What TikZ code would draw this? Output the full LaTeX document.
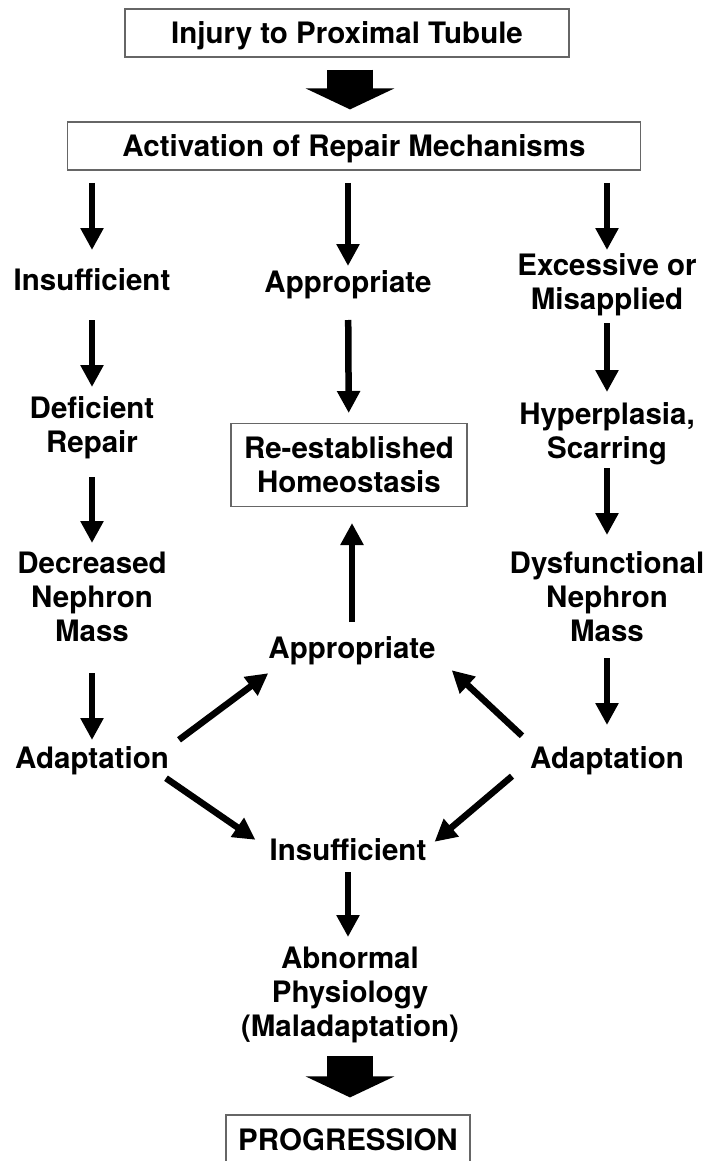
\documentclass[tikz,border=0pt]{standalone}
\usepackage{fontspec}
\setmainfont{TeX Gyre Heros}
\usetikzlibrary{arrows.meta}
\newcommand\tline[1]{\raisebox{0pt}[24.6pt][3.4pt]{#1}}
\begin{document}
\begin{tikzpicture}[x=1pt,y=-1pt,
  txt/.style={font=\fontsize{29.5}{34}\selectfont\bfseries, align=center, inner sep=0pt},
  boxed/.style={txt, draw=black!60, line width=1.2pt},
  arr/.style={line width=6.5pt, -{Triangle[width=22pt,length=22pt]}},
  bigarr/.style={line width=46pt, -{Triangle[width=88pt,length=21pt]}}]
\useasboundingbox (0,0) rectangle (707,1161);
% boxes
\node[boxed, minimum width=444pt, minimum height=48pt] (inj) at (347,33) {\tline{Injury to Proximal Tubule}};
\node[boxed, minimum width=573pt, minimum height=48pt] (act) at (354,146) {\tline{Activation of Repair Mechanisms}};
\node[boxed, minimum width=236pt, minimum height=83pt] (M2) at (349,465) {\tline{Re-established}\\\tline{Homeostasis}};
\node[boxed, minimum width=244pt, minimum height=50pt] (prog) at (348,1140) {\tline{PROGRESSION}};
% left column
\node[txt] (L1) at (92,280) {\tline{Insufficient}};
\node[txt] (L2) at (92,425) {\tline{Deficient}\\\tline{Repair}};
\node[txt] (L3) at (92,597) {\tline{Decreased}\\\tline{Nephron}\\\tline{Mass}};
\node[txt] (L4) at (92,758) {\tline{Adaptation}};
% middle column
\node[txt] (M1) at (348,282) {\tline{Appropriate}};
\node[txt] (M3) at (352,648) {\tline{Appropriate}};
\node[txt] (M4) at (348,850) {\tline{Insufficient}};
\node[txt] (M5) at (350,992) {\tline{Abnormal}\\\tline{Physiology}\\\tline{(Maladaptation)}};
% right column
\node[txt] (R1) at (607,282) {\tline{Excessive or}\\\tline{Misapplied}};
\node[txt] (R2) at (607,431) {\tline{Hyperplasia,}\\\tline{Scarring}};
\node[txt] (R3) at (607,597) {\tline{Dysfunctional}\\\tline{Nephron}\\\tline{Mass}};
\node[txt] (R4) at (607,758) {\tline{Adaptation}};
% big arrows
\coordinate (bx) at ([xshift=3pt]inj.south);
\draw[bigarr, shorten <=12pt, shorten >=12pt] (bx) -- (bx |- act.north);
\draw[bigarr, shorten <=16pt, shorten >=17pt] (M5.south) -- (M5.south |- prog.north);
% left arrows
\draw[arr, shorten <=37pt, shorten >=30pt] (act.center -| L1.center) -- (L1.center);
\draw[arr, shorten <=40pt, shorten >=38pt] (L1.center) -- (L2.center);
\draw[arr, shorten <=52pt, shorten >=54pt] (L2.center) -- (L3.center);
\draw[arr, shorten <=76pt, shorten >=18pt] (L3.center) -- (L4.center);
% middle arrows
\draw[arr, shorten <=37pt, shorten >=16pt] (act.center -| M1.center) -- (M1.center);
\draw[arr, shorten <=38pt, shorten >=52pt] (M1.center) -- (M2.center);
\draw[arr, shorten <=26pt, shorten >=58pt] (M3.center) -- (M3.center |- M2.center);
\draw[arr, shorten <=22pt, shorten >=55pt] (M4.center) -- (M4.center |- M5.center);
% right arrows
\draw[arr, shorten <=37pt, shorten >=32pt] (act.center -| R1.center) -- (R1.center);
\draw[arr, shorten <=41pt, shorten >=39pt] (R1.center) -- (R2.center);
\draw[arr, shorten <=37pt, shorten >=62pt] (R2.center) -- (R3.center);
\draw[arr, shorten <=61pt, shorten >=33pt] (R3.center) -- (R4.center);
% diagonal arrows
\draw[arr] ([shift={(10,-4)}]L4.north east) -- ([shift={(0,11)}]M3.south west);
\draw[arr] ([shift={(-3,6)}]L4.south east) -- ([shift={(-14,4)}]M4.north west);
\draw[arr] ([shift={(-8,-8)}]R4.north west) -- ([shift={(16,8)}]M3.south east);
\draw[arr] ([shift={(-18,4)}]R4.south west) -- ([shift={(8,6)}]M4.north east);
\end{tikzpicture}
\end{document}
